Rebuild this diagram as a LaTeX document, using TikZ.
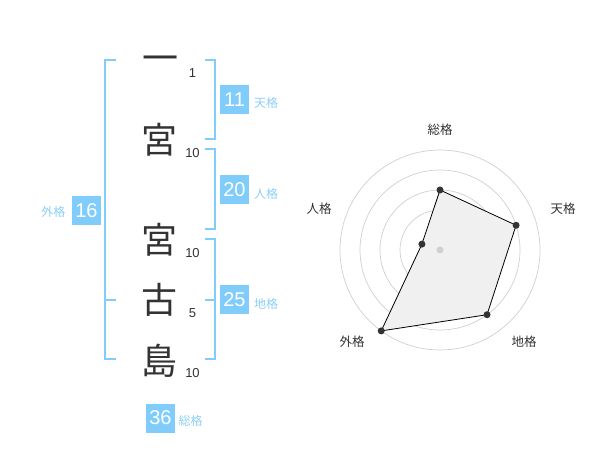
\documentclass[tikz,border=0pt]{standalone}
\usepackage{fontspec}
\usetikzlibrary{calc}
\setmainfont{Liberation Sans}
\newfontfamily\jp{Noto Sans CJK JP}
\definecolor{bl}{RGB}{128,204,250}
\definecolor{bltxt}{RGB}{140,208,248}
\definecolor{ink}{RGB}{51,51,51}
\definecolor{ring}{RGB}{208,208,208}
\definecolor{area}{RGB}{240,240,240}
\begin{document}
\begin{tikzpicture}[x=1pt,y=-1pt,
  kanji/.style={font=\jp\fontsize{36}{36}\selectfont, text=ink, inner sep=0, text height=31.7pt, text depth=4.3pt},
  strokenum/.style={font=\fontsize{13}{13}\selectfont, text=ink, inner sep=0},
  numbox/.style={fill=bl, text=white, minimum size=29pt, inner sep=0, font=\fontsize{20}{20}\selectfont},
  lab/.style={font=\jp\fontsize{12}{12}\selectfont, text=bltxt, inner sep=0},
  brk/.style={draw=bl, line width=1.6pt},
  rlab/.style={font=\jp\fontsize{12.5}{12.5}\selectfont, text=ink, inner sep=0},
  ringline/.style={draw=ring, line width=0.7pt},
  dot/.style={circle, fill=ink, inner sep=0, minimum size=7pt},
]
\useasboundingbox[fill=white] (0,0) rectangle (600,470);

% kanji
\node[kanji] (k1) at (160,58) {一};
\node[kanji] (k2) at (159,140) {宮};
\node[kanji] (k3) at (159,240) {宮};
\node[kanji] (k4) at (159,300) {古};
\node[kanji] (k5) at (159,361) {島};
% stroke counts
\node[strokenum] (s1) at (192.5,73) {1};
\node[strokenum] (s2) at (192.5,153) {10};
\node[strokenum] (s3) at (192.5,253) {10};
\node[strokenum] (s4) at (192.5,313) {5};
\node[strokenum] (s5) at (192.5,373) {10};

% brackets
\draw[brk] (116,60) -- (105,60) -- (105,359.3) -- (116,359.3);
\draw[brk] (105,300) -- (116,300);
\draw[brk] (205,60) -- (215,60) -- (215,139.3) -- (205,139.3);
\draw[brk] (205,149.3) -- (215,149.3) -- (215,229.3) -- (205,229.3);
\draw[brk] (205,239.3) -- (215,239.3) -- (215,359.3) -- (205,359.3);
\draw[brk] (205,300) -- (215,300);

% boxes and labels
\node[numbox] (b16) at (86.5,210.5) {16};
\node[lab] (l16) at (53.5,212) {外格};
\node[numbox] (b11) at (234.5,100) {11};
\node[lab] (l11) at (266,103) {天格};
\node[numbox] (b20) at (234.5,190) {20};
\node[lab] (l20) at (266,194) {人格};
\node[numbox] (b25) at (234.5,300) {25};
\node[lab] (l25) at (266,304) {地格};
\node[numbox] (b36) at (160.5,418) {36};
\node[lab] (l36) at (190.5,421) {総格};

% radar chart
\coordinate (c) at (440,250);
\foreach \r in {20,40,60,80,100} \draw[ringline] (c) circle[radius=\r];
\coordinate (p1) at ($(c)+(-90:60)$);
\coordinate (p2) at ($(c)+(-18:80)$);
\coordinate (p3) at ($(c)+(54:80)$);
\coordinate (p4) at ($(c)+(126:100)$);
\coordinate (p5) at ($(c)+(198:19)$);
\fill[area] (p1) -- (p2) -- (p3) -- (p4) -- (p5) -- cycle;
\draw[black, line width=0.8pt] (p1) -- (p2) -- (p3) -- (p4) -- (p5) -- cycle;
\node[circle, fill=ring, inner sep=0, minimum size=7pt] (cd) at (c) {};
\foreach \p in {p1,p2,p3,p4,p5} \node[dot] at (\p) {};

\node[rlab] (r1) at (440,130) {総格};
\node[rlab] (r2) at (563,208.5) {天格};
\node[rlab] (r3) at (524,342) {地格};
\node[rlab] (r4) at (352,342) {外格};
\node[rlab] (r5) at (319,209) {人格};
\end{tikzpicture}
\end{document}
